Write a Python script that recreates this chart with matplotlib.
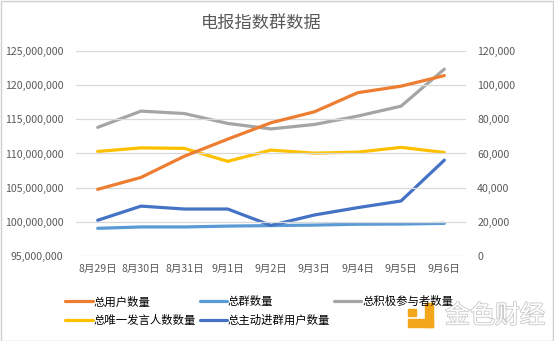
import numpy as np
import matplotlib
matplotlib.use('Agg')
import matplotlib.pyplot as plt
from matplotlib.patches import Rectangle
import matplotlib.patheffects as pe
from matplotlib.ticker import FuncFormatter

plt.rcParams['font.family'] = ['Noto Sans CJK SC', 'DejaVu Sans']

#%%
# data
dates = ['8月29日', '8月30日', '8月31日', '9月1日', '9月2日', '9月3日', '9月4日', '9月5日', '9月6日']

total_users = [104.75e6, 106.5e6, 109.6e6, 112.1e6, 114.5e6, 116.1e6, 118.9e6, 119.85e6, 121.4e6]  # left axis
total_groups = [16200, 17000, 17000, 17500, 17800, 18100, 18600, 18700, 19100]
active_participants = [75300, 84800, 83400, 77600, 74400, 77000, 81900, 87700, 109400]
unique_speakers = [61200, 63300, 63000, 55400, 62000, 60200, 60800, 63600, 60600]
joined_users = [20900, 29200, 27500, 27500, 17900, 24000, 28300, 32200, 56100]

c_orange = '#ED7D31'
c_lblue = '#5B9BD5'
c_grey = '#A5A5A5'
c_yellow = '#FFC000'
c_dblue = '#4472C4'
txt_c = '#595959'

#%%
fig = plt.figure(figsize=(5.54, 3.41), dpi=100)
ax = fig.add_axes([76/554, 1-256/341, 390/554, 205/341])
ax2 = ax.twinx()

x = np.arange(len(dates))
lw = 2.3
l_users, = ax.plot(x, total_users, color=c_orange, lw=lw, solid_capstyle='round', zorder=3)
l_groups, = ax2.plot(x, total_groups, color=c_lblue, lw=lw, solid_capstyle='round')
l_active, = ax2.plot(x, active_participants, color=c_grey, lw=lw, solid_capstyle='round')
l_unique, = ax2.plot(x, unique_speakers, color=c_yellow, lw=lw, solid_capstyle='round')
l_joined, = ax2.plot(x, joined_users, color=c_dblue, lw=lw, solid_capstyle='round')

ax.set_xlim(-0.5, len(dates)-0.5)
ax.set_ylim(95e6, 125e6)
ax.set_yticks(np.arange(95e6, 125e6+1, 5e6))
ax.yaxis.set_major_formatter(FuncFormatter(lambda v, p: f'{v:,.0f}'))
ax2.set_ylim(0, 120000)
ax2.set_yticks(np.arange(0, 120001, 20000))
ax2.yaxis.set_major_formatter(FuncFormatter(lambda v, p: f'{v:,.0f}'))

ax.set_xticks(x)
ax.set_xticklabels(dates)
ax.grid(axis='y', color='#D9D9D9', lw=0.9)
ax.set_axisbelow(True)
for a in (ax, ax2):
    for s in a.spines.values():
        s.set_visible(False)
    a.tick_params(length=0, labelsize=7.6, colors=txt_c)
ax.tick_params(axis='y', pad=9)
ax2.tick_params(axis='y', pad=8)
ax.tick_params(axis='x', pad=6)
ax.set_zorder(ax2.get_zorder()+1)
ax.patch.set_visible(False)

fig.text(261/554, 1-23/341, '电报指数群数据', ha='center', va='center', fontsize=12.4, color=txt_c)

handles = [l_users, l_unique, l_groups, l_joined, l_active]
labels = ['总用户数量', '总唯一发言人数数量', '总群数量', '总主动进群用户数量', '总积极参与者数量']
fig.legend(handles, labels, ncol=3, loc='upper left', bbox_to_anchor=(55/554, 1-286/341),
           frameon=False, fontsize=8.2, handlelength=2.4, handletextpad=0.1,
           columnspacing=0.3, labelspacing=0.65)

# watermark
fig.patches.append(Rectangle((425/554, 1-327/341), 8/554, 24/341, transform=fig.transFigure, color='#F2A71B'))
fig.patches.append(Rectangle((408/554, 1-327/341), 25/554, 8/341, transform=fig.transFigure, color='#F2A71B'))
fig.patches.append(Rectangle((408/554, 1-316/341), 8/554, 7/341, transform=fig.transFigure, color='#F2A71B'))
fig.text(495/554, 1-316/341, '金色财经', ha='center', va='center', fontsize=18, color='white',
         path_effects=[pe.withStroke(linewidth=1.2, foreground='#C8C8C8')])

fig.patches.append(Rectangle((0.5/554, 0.5/341), 552.5/554, 339.5/341, transform=fig.transFigure,
                             fill=False, edgecolor='#D0D0D0', lw=1))

fig.savefig('out.png', dpi=100, facecolor='white')
